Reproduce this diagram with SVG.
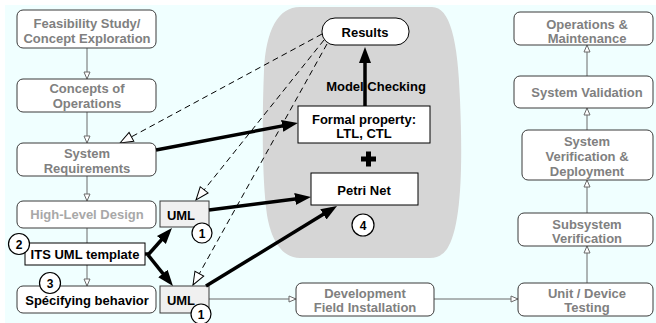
<svg xmlns="http://www.w3.org/2000/svg" width="656" height="323" viewBox="0 0 656 323">
  <style>
    text { font-family: "Liberation Sans", Arial, sans-serif; font-weight: bold; text-anchor: middle; }
    .phase { fill: #ffffff; stroke: #3a3a3a; stroke-width: 1; }
    .phase-t { font-size: 13px; fill: #808080; }
    .pale-t { font-size: 13px; fill: #a8a8a8; }
    .dark-t { font-size: 13px; fill: #000000; }
    .box { fill: #ffffff; stroke: #000000; stroke-width: 1; }
    .uml { fill: #f0f0f0; stroke: #3a3a3a; stroke-width: 1; }
    .num { fill: #ffffff; stroke: #000000; stroke-width: 1.2; }
    .num-t { font-size: 12px; fill: #000000; }
    .flow { stroke: #6a6a6a; stroke-width: 1; fill: none; marker-end: url(#openSmall); }
    .trace { stroke: #000000; stroke-width: 1; fill: none; stroke-dasharray: 6 4; marker-end: url(#openBig); }
    .map { stroke: #000000; stroke-width: 3.5; fill: none; marker-end: url(#solid); }
  </style>
  <defs>
    <marker id="openSmall" markerUnits="userSpaceOnUse" markerWidth="10" markerHeight="10" refX="8" refY="4" orient="auto">
      <path d="M1,1 L8,4 L1,7 Z" fill="#ffffff" stroke="#6a6a6a" stroke-width="1"/>
    </marker>
    <marker id="openBig" markerUnits="userSpaceOnUse" markerWidth="16" markerHeight="14" refX="14" refY="7" orient="auto">
      <path d="M1,2 L14,7 L1,12 Z" fill="#ffffff" stroke="#000000" stroke-width="1"/>
    </marker>
    <marker id="solid" markerUnits="userSpaceOnUse" markerWidth="18" markerHeight="14" refX="10" refY="6" orient="auto">
      <path d="M0,0 L16,6 L0,12 Z" fill="#000000"/>
    </marker>
  </defs>

  <!-- backdrop -->
  <rect x="0" y="0" width="656" height="323" fill="#ffffff"/>
  <rect x="5" y="5" width="651" height="318" fill="#f0ffff"/>
  <!-- verification area -->
  <path d="M300,7 L432,7 C450,7 458,40 460,100 C463,170 461,228 447,249 Q441,258 430,258 L300,258 C285,258 272,245 267,215 C262,180 262,120 264,70 C266,30 278,7 300,7 Z" fill="#d6d6d6"/>

  <!-- connectors -->
  <g id="connectors">
    <line class="flow" x1="87" y1="48" x2="87" y2="79"/>
    <line class="flow" x1="87" y1="112" x2="87" y2="143"/>
    <line class="flow" x1="87" y1="176" x2="87" y2="201"/>
    <line class="flow" x1="87" y1="228" x2="87" y2="286"/>
    <line class="flow" x1="209" y1="299" x2="296" y2="299"/>
    <line class="flow" x1="434" y1="299" x2="518" y2="299"/>
    <line class="flow" x1="587" y1="283" x2="587" y2="246"/>
    <line class="flow" x1="587" y1="213" x2="587" y2="180"/>
    <line class="flow" x1="587" y1="130" x2="587" y2="108"/>
    <line class="flow" x1="587" y1="76" x2="587" y2="45"/>

    <line class="trace" x1="322" y1="34" x2="120" y2="143"/>
    <line class="trace" x1="324" y1="40" x2="196" y2="200"/>
    <line class="trace" x1="327" y1="44" x2="193" y2="285"/>
  </g>

  <!-- life-cycle phases -->
  <g id="feasibility">
    <rect class="phase" x="17" y="10" width="139" height="38" rx="6"/>
    <text class="phase-t" x="87" y="28">Feasibility Study/</text>
    <text class="phase-t" x="87" y="42.5">Concept Exploration</text>
  </g>
  <g id="concepts">
    <rect class="phase" x="17" y="79" width="139" height="33" rx="6"/>
    <text class="phase-t" x="87" y="93">Concepts of</text>
    <text class="phase-t" x="87" y="108">Operations</text>
  </g>
  <g id="requirements">
    <rect class="phase" x="17" y="143" width="139" height="33" rx="6"/>
    <text class="phase-t" x="87" y="158">System</text>
    <text class="phase-t" x="87" y="172.5">Requirements</text>
  </g>
  <g id="high-level-design">
    <rect class="phase" x="17" y="201" width="139" height="27" rx="6"/>
    <text class="pale-t" x="87" y="219">High-Level Design</text>
  </g>
  <g id="its-template">
    <rect class="box" x="25" y="243" width="120" height="22"/>
    <text class="dark-t" x="85" y="259">ITS UML template</text>
  </g>
  <g id="behavior">
    <rect class="phase" x="17" y="286" width="139" height="27" rx="6"/>
    <text class="dark-t" x="87" y="305">Spécifying behavior</text>
  </g>
  <g id="uml-design">
    <rect class="uml" x="160" y="201" width="49" height="26"/>
    <text class="dark-t" x="181" y="220">UML</text>
  </g>
  <g id="uml-behavior">
    <rect class="uml" x="160" y="286" width="49" height="27"/>
    <text class="dark-t" x="181" y="305">UML</text>
  </g>
  <g id="development">
    <rect class="phase" x="296" y="283" width="138" height="33" rx="6"/>
    <text class="phase-t" x="365" y="298">Development</text>
    <text class="phase-t" x="365" y="312">Field Installation</text>
  </g>
  <g id="unit-testing">
    <rect class="phase" x="518" y="283" width="135" height="33" rx="6"/>
    <text class="phase-t" x="587" y="298">Unit / Device</text>
    <text class="phase-t" x="587" y="312">Testing</text>
  </g>
  <g id="subsystem-verification">
    <rect class="phase" x="518" y="213" width="135" height="33" rx="6"/>
    <text class="phase-t" x="587" y="228.5">Subsystem</text>
    <text class="phase-t" x="587" y="243">Verification</text>
  </g>
  <g id="system-verification">
    <rect class="phase" x="522" y="130" width="131" height="50" rx="6"/>
    <text class="phase-t" x="587" y="146">System</text>
    <text class="phase-t" x="587" y="161">Verification &amp;</text>
    <text class="phase-t" x="587" y="176">Deployment</text>
  </g>
  <g id="validation">
    <rect class="phase" x="514" y="76" width="139" height="32" rx="6"/>
    <text class="phase-t" x="587" y="97">System Validation</text>
  </g>
  <g id="operations">
    <rect class="phase" x="514" y="12" width="139" height="33" rx="6"/>
    <text class="phase-t" x="587" y="28.5">Operations &amp;</text>
    <text class="phase-t" x="587" y="42.5">Maintenance</text>
  </g>

  <!-- model checking -->
  <g id="results">
    <rect class="box" x="322" y="18" width="87" height="27" rx="13"/>
    <text class="dark-t" x="365" y="37">Results</text>
  </g>
  <g id="formal-property">
    <rect class="box" x="298" y="106" width="132" height="37"/>
    <text class="dark-t" x="364" y="124">Formal property:</text>
    <text class="dark-t" x="364" y="138">LTL, CTL</text>
  </g>
  <g id="petri-net">
    <rect class="box" x="311" y="173" width="107" height="32"/>
    <text class="dark-t" x="364" y="195">Petri Net</text>
  </g>
  <g id="plus">
    <rect x="361" y="156.5" width="15" height="5" fill="#000000"/>
    <rect x="366" y="151.5" width="5" height="15" fill="#000000"/>
  </g>
  <text class="dark-t" x="376" y="91">Model Checking</text>

  <!-- mappings -->
  <g id="mappings">
    <line class="map" x1="365" y1="106" x2="365" y2="53"/>
    <line class="map" x1="156" y1="150" x2="292" y2="124.1"/>
    <line class="map" x1="209" y1="210" x2="305" y2="197.8"/>
    <line class="map" x1="206" y1="286" x2="331.9" y2="209.1"/>
    <polyline points="145,254 149,254" stroke="#000000" stroke-width="3.5" fill="none"/>
    <line class="map" x1="148" y1="255" x2="168" y2="232.5"/>
    <line class="map" x1="148" y1="255" x2="169.2" y2="281.3"/>
  </g>

  <!-- step numbers -->
  <g id="step-1a">
    <circle class="num" cx="202" cy="233" r="10"/>
    <text class="num-t" x="202" y="237.5">1</text>
  </g>
  <g id="step-1b">
    <circle class="num" cx="201" cy="314" r="10"/>
    <text class="num-t" x="201" y="318.5">1</text>
  </g>
  <g id="step-2">
    <circle class="num" cx="19" cy="244" r="10.5"/>
    <text class="num-t" x="19" y="248.5">2</text>
  </g>
  <g id="step-3">
    <circle class="num" cx="50" cy="283" r="10.5"/>
    <text class="num-t" x="50" y="287.5">3</text>
  </g>
  <g id="step-4">
    <circle class="num" cx="363" cy="225" r="11"/>
    <text class="num-t" x="363" y="229.5">4</text>
  </g>
</svg>
